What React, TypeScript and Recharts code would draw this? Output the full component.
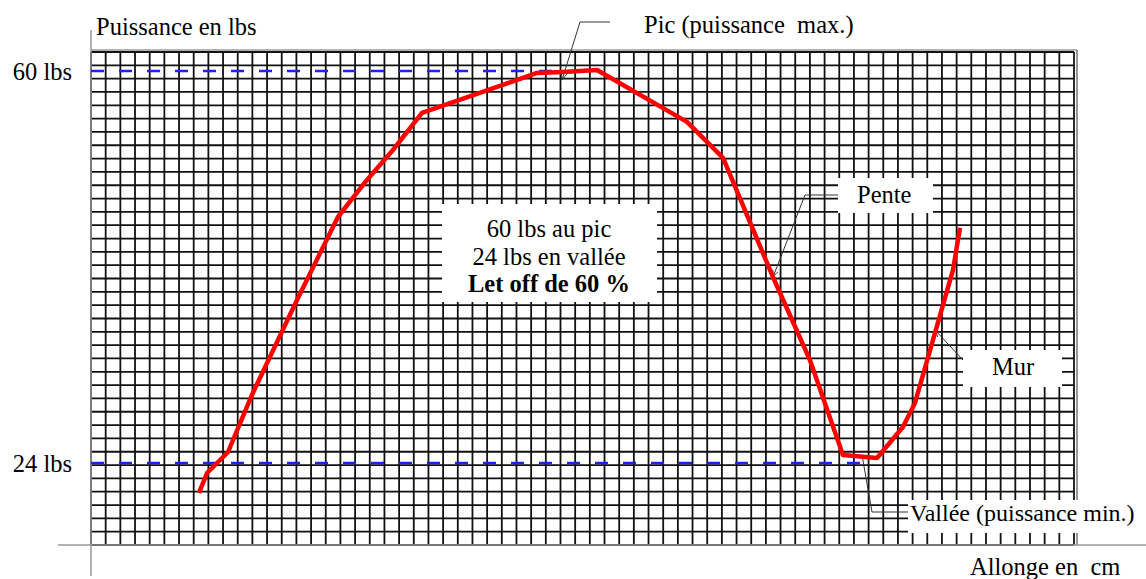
import { LineChart, Line, XAxis, YAxis, CartesianGrid, ReferenceLine } from "recharts"

// allonge (cm, en cases de grille) et puissance (lbs)
const allonge = [7.36, 7.91, 9.34, 10.97, 12.0, 14.04, 16.83, 18.81, 20.58, 22.56, 30.4, 32.17, 34.49, 40.62, 43.08, 46.48, 49.0, 51.25, 53.57, 55.34, 56.16, 58.75, 59.23]
const puissance = [21.25, 23.08, 25.01, 30.25, 33.18, 38.97, 46.59, 49.99, 52.74, 56.14, 59.82, 59.91, 60.09, 55.32, 52.01, 41.08, 33.46, 24.73, 24.46, 27.31, 29.51, 41.72, 45.58]

const yTicks = [24, 60]
const picLine = [0, 32.17] // de l'axe jusqu'au pic
const valleeLine = [0, 52.6] // de l'axe jusqu'à la vallée
const gridCols = Array.from({ length: 68 }, (_, i) => i)
const ROWS = 37
const gridRows = Array.from({ length: ROWS + 1 }, (_, i) => i)

const infoLines = ["60 lbs au pic", "24 lbs en vallée", "Let off de 60 %"]

const data = allonge.map((x, i) => ({ allonge: x, puissance: puissance[i] }))

const FONT = "'Liberation Serif', 'Times New Roman', serif"
const MARGIN = { top: 52, right: 72, bottom: 34, left: 0 }

export default function App() {
  // lignes horizontales du papier millimétré : 37 rangées régulières
  const rowGenerator = (props: any) => {
    const top = props?.offset?.top ?? MARGIN.top
    const h = props?.offset?.height ?? props.height - MARGIN.top - MARGIN.bottom
    return gridRows.map((i) => top + (h * i) / ROWS)
  }

  return (
    <div style={{ position: "absolute", left: 0, top: 0, background: "#fff" }}>
      <LineChart width={1146} height={579} data={data} margin={MARGIN}>
        <defs>
          <marker id="arrow" viewBox="0 0 10 10" refX="10" refY="5" markerWidth="7" markerHeight="7" orient="auto">
            <path d="M0,1 L10,5 L0,9" fill="none" stroke="#333" strokeWidth="1.2" />
          </marker>
        </defs>
        <XAxis type="number" dataKey="allonge" domain={[0, 67]} ticks={gridCols} interval={0} hide />
        <YAxis
          type="number"
          domain={[16.47, 61.74]}
          ticks={yTicks}
          interval={0}
          width={91}
          axisLine={false}
          tickLine={false}
          tickSize={0}
          tickMargin={19}
          tickFormatter={(v: number) => `${v} lbs`}
          tick={{ fill: "#000", fontSize: 24.5, fontFamily: FONT }}
        />
        <CartesianGrid stroke="#111" strokeWidth={1.8} horizontalCoordinatesGenerator={rowGenerator} />

        {/* bords gris du cadre */}
        <line x1={91} y1={50} x2={1077} y2={50} stroke="#999" strokeWidth={1.5} />
        <line x1={1077} y1={50} x2={1077} y2={545} stroke="#999" strokeWidth={2} />
        <line x1={91} y1={30} x2={91} y2={576} stroke="#999" strokeWidth={1.5} />
        <line x1={58} y1={545} x2={1146} y2={545} stroke="#999" strokeWidth={1.5} />

        {/* cadres blancs des annotations */}
        <rect x={442} y={204} width={215} height={98} fill="#fff" />
        <rect x={838} y={178} width={95} height={35} fill="#fff" />
        <rect x={963} y={350} width={99} height={37} fill="#fff" />
        <rect x={908} y={500} width={238} height={33} fill="#fff" />

        <ReferenceLine
          segment={[{ x: picLine[0], y: yTicks[1] }, { x: picLine[1], y: yTicks[1] }]}
          stroke="#1f1fff"
          strokeWidth={2.5}
          strokeDasharray="13 15"
          ifOverflow="visible"
        />
        <ReferenceLine
          segment={[{ x: valleeLine[0], y: yTicks[0] }, { x: valleeLine[1], y: yTicks[0] }]}
          stroke="#1f1fff"
          strokeWidth={2.5}
          strokeDasharray="13 15"
          ifOverflow="visible"
        />

        <Line
          type="linear"
          dataKey="puissance"
          stroke="#ff0000"
          strokeWidth={4.5}
          strokeLinejoin="round"
          dot={false}
          activeDot={false}
          isAnimationActive={false}
        />

        {/* flèches des annotations */}
        <polyline points="610,22 580,22 562,80" fill="none" stroke="#333" strokeWidth={1} markerEnd="url(#arrow)" />
        <polyline points="838,195 805,195 773,277" fill="none" stroke="#333" strokeWidth={1} markerEnd="url(#arrow)" />
        <polyline points="963,360 935,330" fill="none" stroke="#333" strokeWidth={1} markerEnd="url(#arrow)" />
        <polyline points="908,512 872,512 862,455" fill="none" stroke="#333" strokeWidth={1} />

        <g fontFamily={FONT} fontSize={24.5} fill="#000">
          <text x={96} y={35}>Puissance en lbs</text>
          <text x={644} y={33} xmlSpace="preserve">{"Pic (puissance  max.)"}</text>
          <text x={970} y={575} xmlSpace="preserve">{"Allonge en  cm"}</text>
          <text x={857} y={203}>Pente</text>
          <text x={992} y={375}>Mur</text>
          <text x={910} y={521} fontSize={24}>Vallée (puissance min.)</text>
          {infoLines.map((t, i) => (
            <text key={t} x={549} y={237 + i * 27.5} textAnchor="middle" fontWeight={i === 2 ? "bold" : "normal"}>
              {t}
            </text>
          ))}
        </g>
      </LineChart>
    </div>
  )
}
